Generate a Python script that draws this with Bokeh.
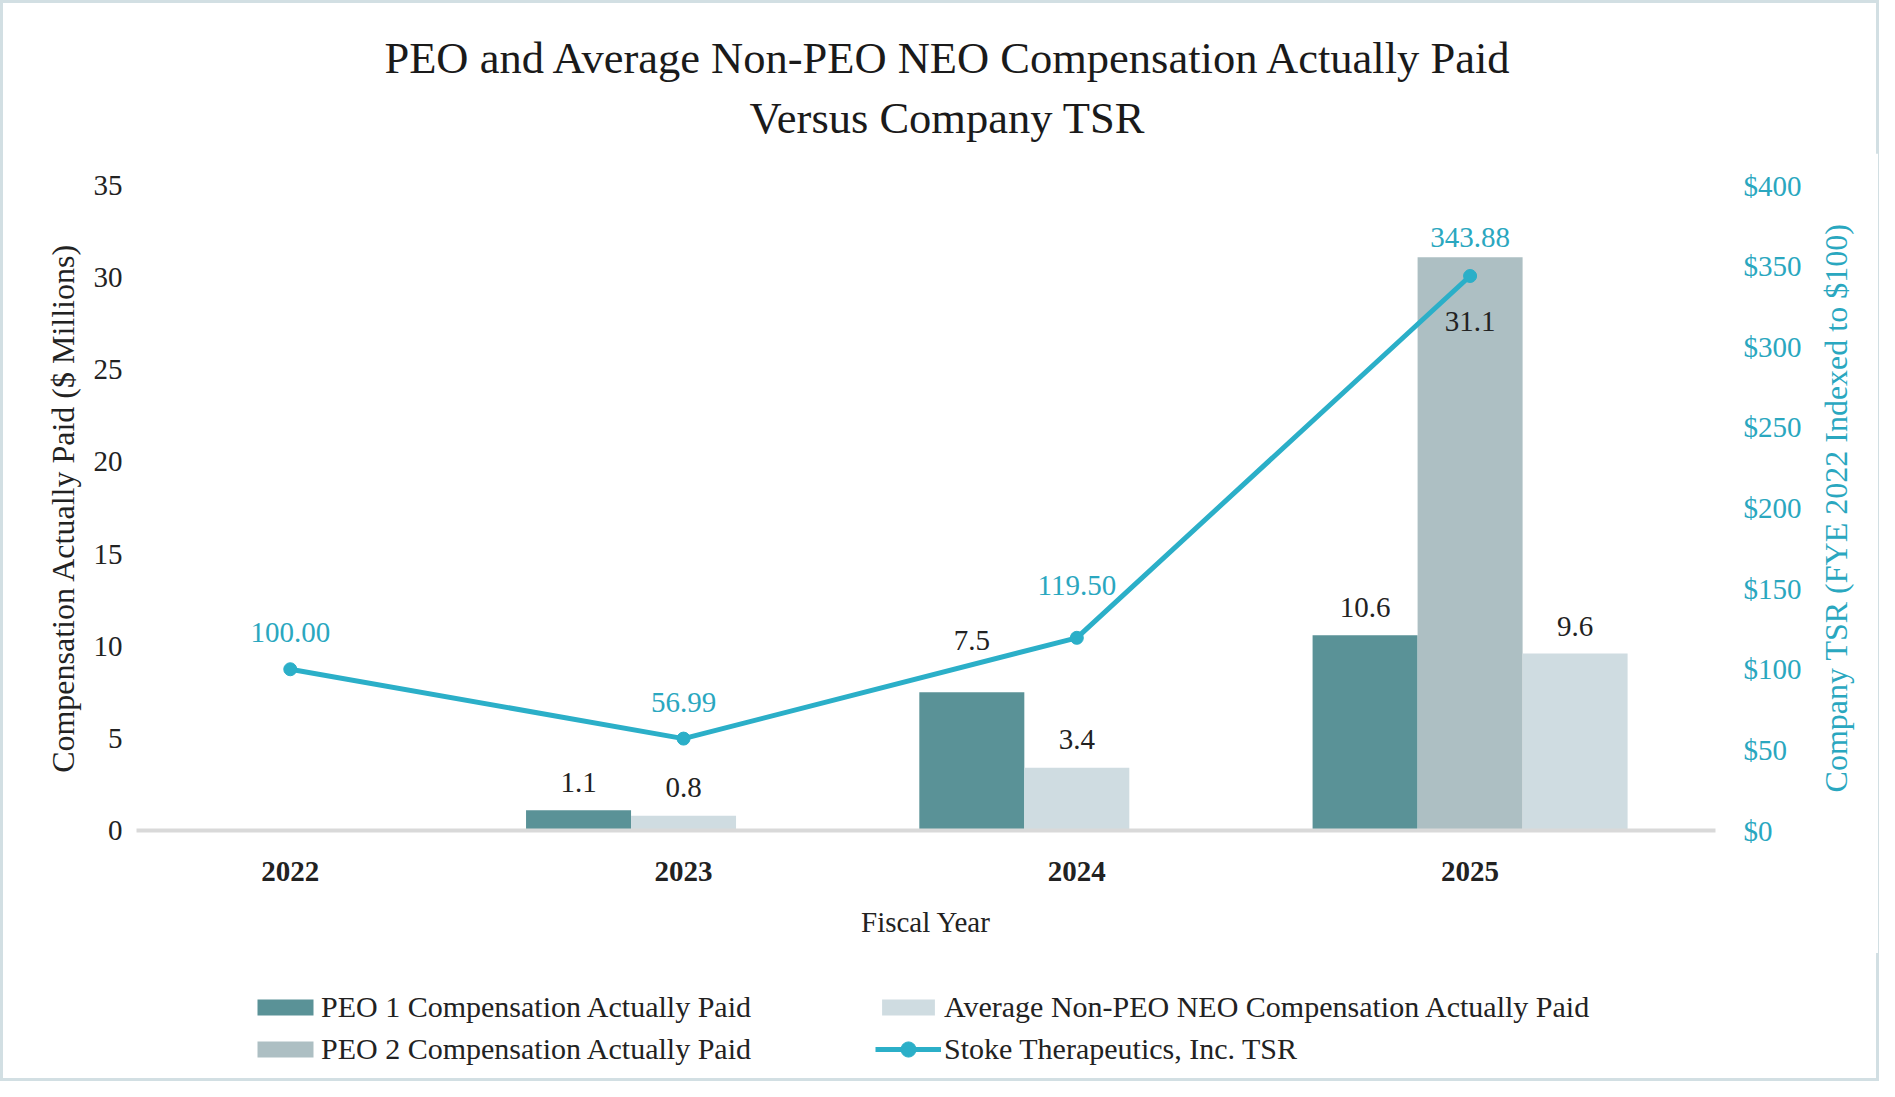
from bokeh.plotting import figure
from bokeh.models import (Range1d, LinearAxis, FixedTicker, PrintfTickFormatter,
                          Legend, LegendItem, ColumnDataSource, Div, Column, Row)
from bokeh.embed import file_html
from bokeh.resources import INLINE
from bokeh.core.properties import value

# ---------------- data ----------------
years = [2022, 2023, 2024, 2025]
peo1 = [None, 1.1, 7.5, 10.6]          # $ millions
peo2 = [None, None, None, 31.1]
non_peo = [None, 0.8, 3.4, 9.6]
tsr = [100.00, 56.99, 119.50, 343.88]  # indexed TSR
left_ticks = [0, 5, 10, 15, 20, 25, 30, 35]
right_ticks = [0, 50, 100, 150, 200, 250, 300, 350, 400]
title_line1 = "PEO and Average Non-PEO NEO Compensation Actually Paid"
title_line2 = "Versus Company TSR"
y_title = "Compensation Actually Paid ($ Millions)"
y2_title = "Company TSR (FYE 2022 Indexed to $100)"
x_title = "Fiscal Year"
name_peo1 = "PEO 1 Compensation Actually Paid"
name_peo2 = "PEO 2 Compensation Actually Paid"
name_non = "Average Non-PEO NEO Compensation Actually Paid"
name_tsr = "Stoke Therapeutics, Inc. TSR"

# ---------------- style ----------------
FONT = "Liberation Serif"
C_PEO1 = "#5a9297"
C_PEO2 = "#adbfc3"
C_NON = "#cfdce1"
C_TEAL = "#2bafc8"
C_TEAL_TXT = "#2aa7bf"
C_TXT = "#222222"
BORDER = "3px solid #d2dfe3"

W = 1879
W_MAIN = 1812
W_RIGHT = W - W_MAIN
H_TITLE, H_MAIN, H_LEG = 153, 800, 128
MB_TOP, MB_BOTTOM = 32, 123

# ---------------- title ----------------
title_div = Div(
    text=(f'<div style="font-family:\'{FONT}\';font-size:44.5px;line-height:60px;'
          f'text-align:center;color:#1a1a1a;padding-top:25px;padding-left:15px;'
          f'box-sizing:border-box;width:{W - 6}px;">'
          f'{title_line1}<br>{title_line2}</div>'),
    width=W, height=H_TITLE, margin=0,
    styles={"border-top": BORDER, "border-left": BORDER, "border-right": BORDER,
            "background-color": "white"})

# ---------------- main plot ----------------
p = figure(width=W_MAIN, height=H_MAIN, output_backend="svg", toolbar_location=None,
           x_range=Range1d(2021.609, 2025.624), y_range=Range1d(0, 35),
           min_border_left=133, min_border_right=100,
           min_border_top=MB_TOP, min_border_bottom=MB_BOTTOM)
p.styles = {"border-left": BORDER}
p.background_fill_color = "white"
p.border_fill_color = "white"
p.outline_line_color = None
p.xgrid.visible = False
p.ygrid.visible = False
p.extra_y_ranges = {"tsr": Range1d(0, 400)}

bar_w = 0.267
def pick(vals, xs):
    return [x for x, v in zip(xs, vals) if v is not None], [v for v in vals if v is not None]

x1 = [y - bar_w for y in years]
x2 = [float(y) for y in years]
x3 = [y + (bar_w if b is not None else 0.0) for y, b in zip(years, peo2)]

px1, pv1 = pick(peo1, x1)
px2, pv2 = pick(peo2, x2)
px3, pv3 = pick(non_peo, x3)

p.vbar(x=px1, top=pv1, width=bar_w, fill_color=C_PEO1, line_color=None)
p.vbar(x=px2, top=pv2, width=bar_w, fill_color=C_PEO2, line_color=None)
p.vbar(x=px3, top=pv3, width=bar_w, fill_color=C_NON, line_color=None)

off1 = [-28, -52, -28]
off2 = [64]
off3 = [-28, -28, -27]
for xs, vs, offs in [(px1, pv1, off1), (px2, pv2, off2), (px3, pv3, off3)]:
    src = ColumnDataSource(dict(x=xs, y=vs, t=[f"{v:.1f}" for v in vs], o=offs))
    p.text(x="x", y="y", text="t", y_offset="o", source=src,
           text_font=value(FONT), text_font_size="29px", text_color=C_TXT,
           text_align="center", text_baseline="middle")

p.line(x=years, y=tsr, y_range_name="tsr", line_color=C_TEAL, line_width=5)
p.scatter(x=years, y=tsr, y_range_name="tsr", size=13, fill_color=C_TEAL,
          line_color=C_TEAL)
tsr_off = [-37, -36, -52, -38]
src_t = ColumnDataSource(dict(x=years, y=tsr, t=[f"{v:.2f}" for v in tsr], o=tsr_off))
p.text(x="x", y="y", text="t", y_offset="o", source=src_t, y_range_name="tsr",
       text_font=value(FONT), text_font_size="29px", text_color=C_TEAL_TXT,
       text_align="center", text_baseline="middle")

xa = p.xaxis[0]
xa.ticker = FixedTicker(ticks=years)
xa.axis_line_color = "#d9d9d9"
xa.axis_line_width = 4
xa.major_tick_line_color = None
xa.minor_tick_line_color = None
xa.major_label_text_font = FONT
xa.major_label_text_font_size = "29px"
xa.major_label_text_font_style = "bold"
xa.major_label_text_color = C_TXT
xa.major_label_standoff = 25
xa.axis_label = x_title
xa.axis_label_text_font = FONT
xa.axis_label_text_font_size = "29px"
xa.axis_label_text_font_style = "normal"
xa.axis_label_text_color = C_TXT
xa.axis_label_standoff = 22

ya = p.yaxis[0]
ya.ticker = FixedTicker(ticks=left_ticks)
ya.axis_line_color = None
ya.major_tick_line_color = None
ya.minor_tick_line_color = None
ya.major_label_text_font = FONT
ya.major_label_text_font_size = "29px"
ya.major_label_text_color = C_TXT
ya.major_label_standoff = 8
ya.axis_label = y_title
ya.axis_label_text_font = FONT
ya.axis_label_text_font_size = "32px"
ya.axis_label_text_font_style = "normal"
ya.axis_label_text_color = C_TXT
ya.axis_label_standoff = 10

ra = LinearAxis(y_range_name="tsr", ticker=FixedTicker(ticks=right_ticks),
                formatter=PrintfTickFormatter(format="$%d"))
ra.axis_line_color = None
ra.major_tick_line_color = None
ra.minor_tick_line_color = None
ra.major_label_text_font = FONT
ra.major_label_text_font_size = "29px"
ra.major_label_text_color = C_TEAL_TXT
ra.major_label_standoff = 22
p.add_layout(ra, "right")

# ---------------- right-hand axis title (a bottom-to-top axis label) -------------
pr = figure(width=W_RIGHT, height=H_MAIN, output_backend="svg", toolbar_location=None,
            x_range=Range1d(0, 1), y_range=Range1d(0, 400),
            min_border_left=60, min_border_right=W_RIGHT - 61,
            min_border_top=MB_TOP, min_border_bottom=MB_BOTTOM)
pr.styles = {"border-right": BORDER}
pr.outline_line_color = None
pr.xgrid.visible = False
pr.ygrid.visible = False
pr.xaxis.visible = False
pra = pr.yaxis[0]
pra.ticker = FixedTicker(ticks=[])
pra.axis_line_color = None
pra.major_tick_line_color = None
pra.minor_tick_line_color = None
pra.axis_label = y2_title
pra.axis_label_text_font = FONT
pra.axis_label_text_font_size = "32px"
pra.axis_label_text_font_style = "normal"
pra.axis_label_text_color = C_TEAL_TXT
pra.axis_label_standoff = 19

# ---------------- legend strip ----------------
# legend keys: the same series, drawn outside this strip's visible range
lf = figure(width=W, height=H_LEG, output_backend="svg", toolbar_location=None,
            x_range=Range1d(0, 1), y_range=Range1d(0, 1),
            x_axis_type=None, y_axis_type=None,
            min_border_left=0, min_border_right=0, min_border_top=0, min_border_bottom=0)
lf.styles = {"border-left": BORDER, "border-right": BORDER, "border-bottom": BORDER}
lf.outline_line_color = None
k1 = lf.vbar(x=px1, top=pv1, width=bar_w, fill_color=C_PEO1, line_color=None)
k2 = lf.vbar(x=px2, top=pv2, width=bar_w, fill_color=C_PEO2, line_color=None)
k3 = lf.vbar(x=px3, top=pv3, width=bar_w, fill_color=C_NON, line_color=None)
kl = lf.line(x=years, y=tsr, line_color=C_TEAL, line_width=5)
kc = lf.scatter(x=years, y=tsr, size=15, fill_color=C_TEAL, line_color=C_TEAL)

common = dict(orientation="vertical", label_text_font=FONT, label_text_font_size="30px",
              label_text_color=C_TXT, label_height=42, spacing=0, padding=0, margin=0,
              border_line_color=None, background_fill_alpha=0)
leg_a = Legend(items=[LegendItem(label=name_peo1, renderers=[k1]),
                      LegendItem(label=name_peo2, renderers=[k2])],
               location=(247, 11), glyph_width=70, glyph_height=20,
               label_standoff=1, **common)
leg_b1 = Legend(items=[LegendItem(label=name_non, renderers=[k3])],
                location=(872, 53), glyph_width=66, glyph_height=20,
                label_standoff=3, **common)
leg_b2 = Legend(items=[LegendItem(label=name_tsr, renderers=[kl, kc])],
                location=(872, 11), glyph_width=66, glyph_height=38,
                label_standoff=3, **common)
lf.add_layout(leg_a, "center")
lf.add_layout(leg_b1, "center")
lf.add_layout(leg_b2, "center")

layout = Column(title_div, Row(p, pr, spacing=0), lf, spacing=0)
open("out.html", "w").write(file_html(layout, INLINE))
